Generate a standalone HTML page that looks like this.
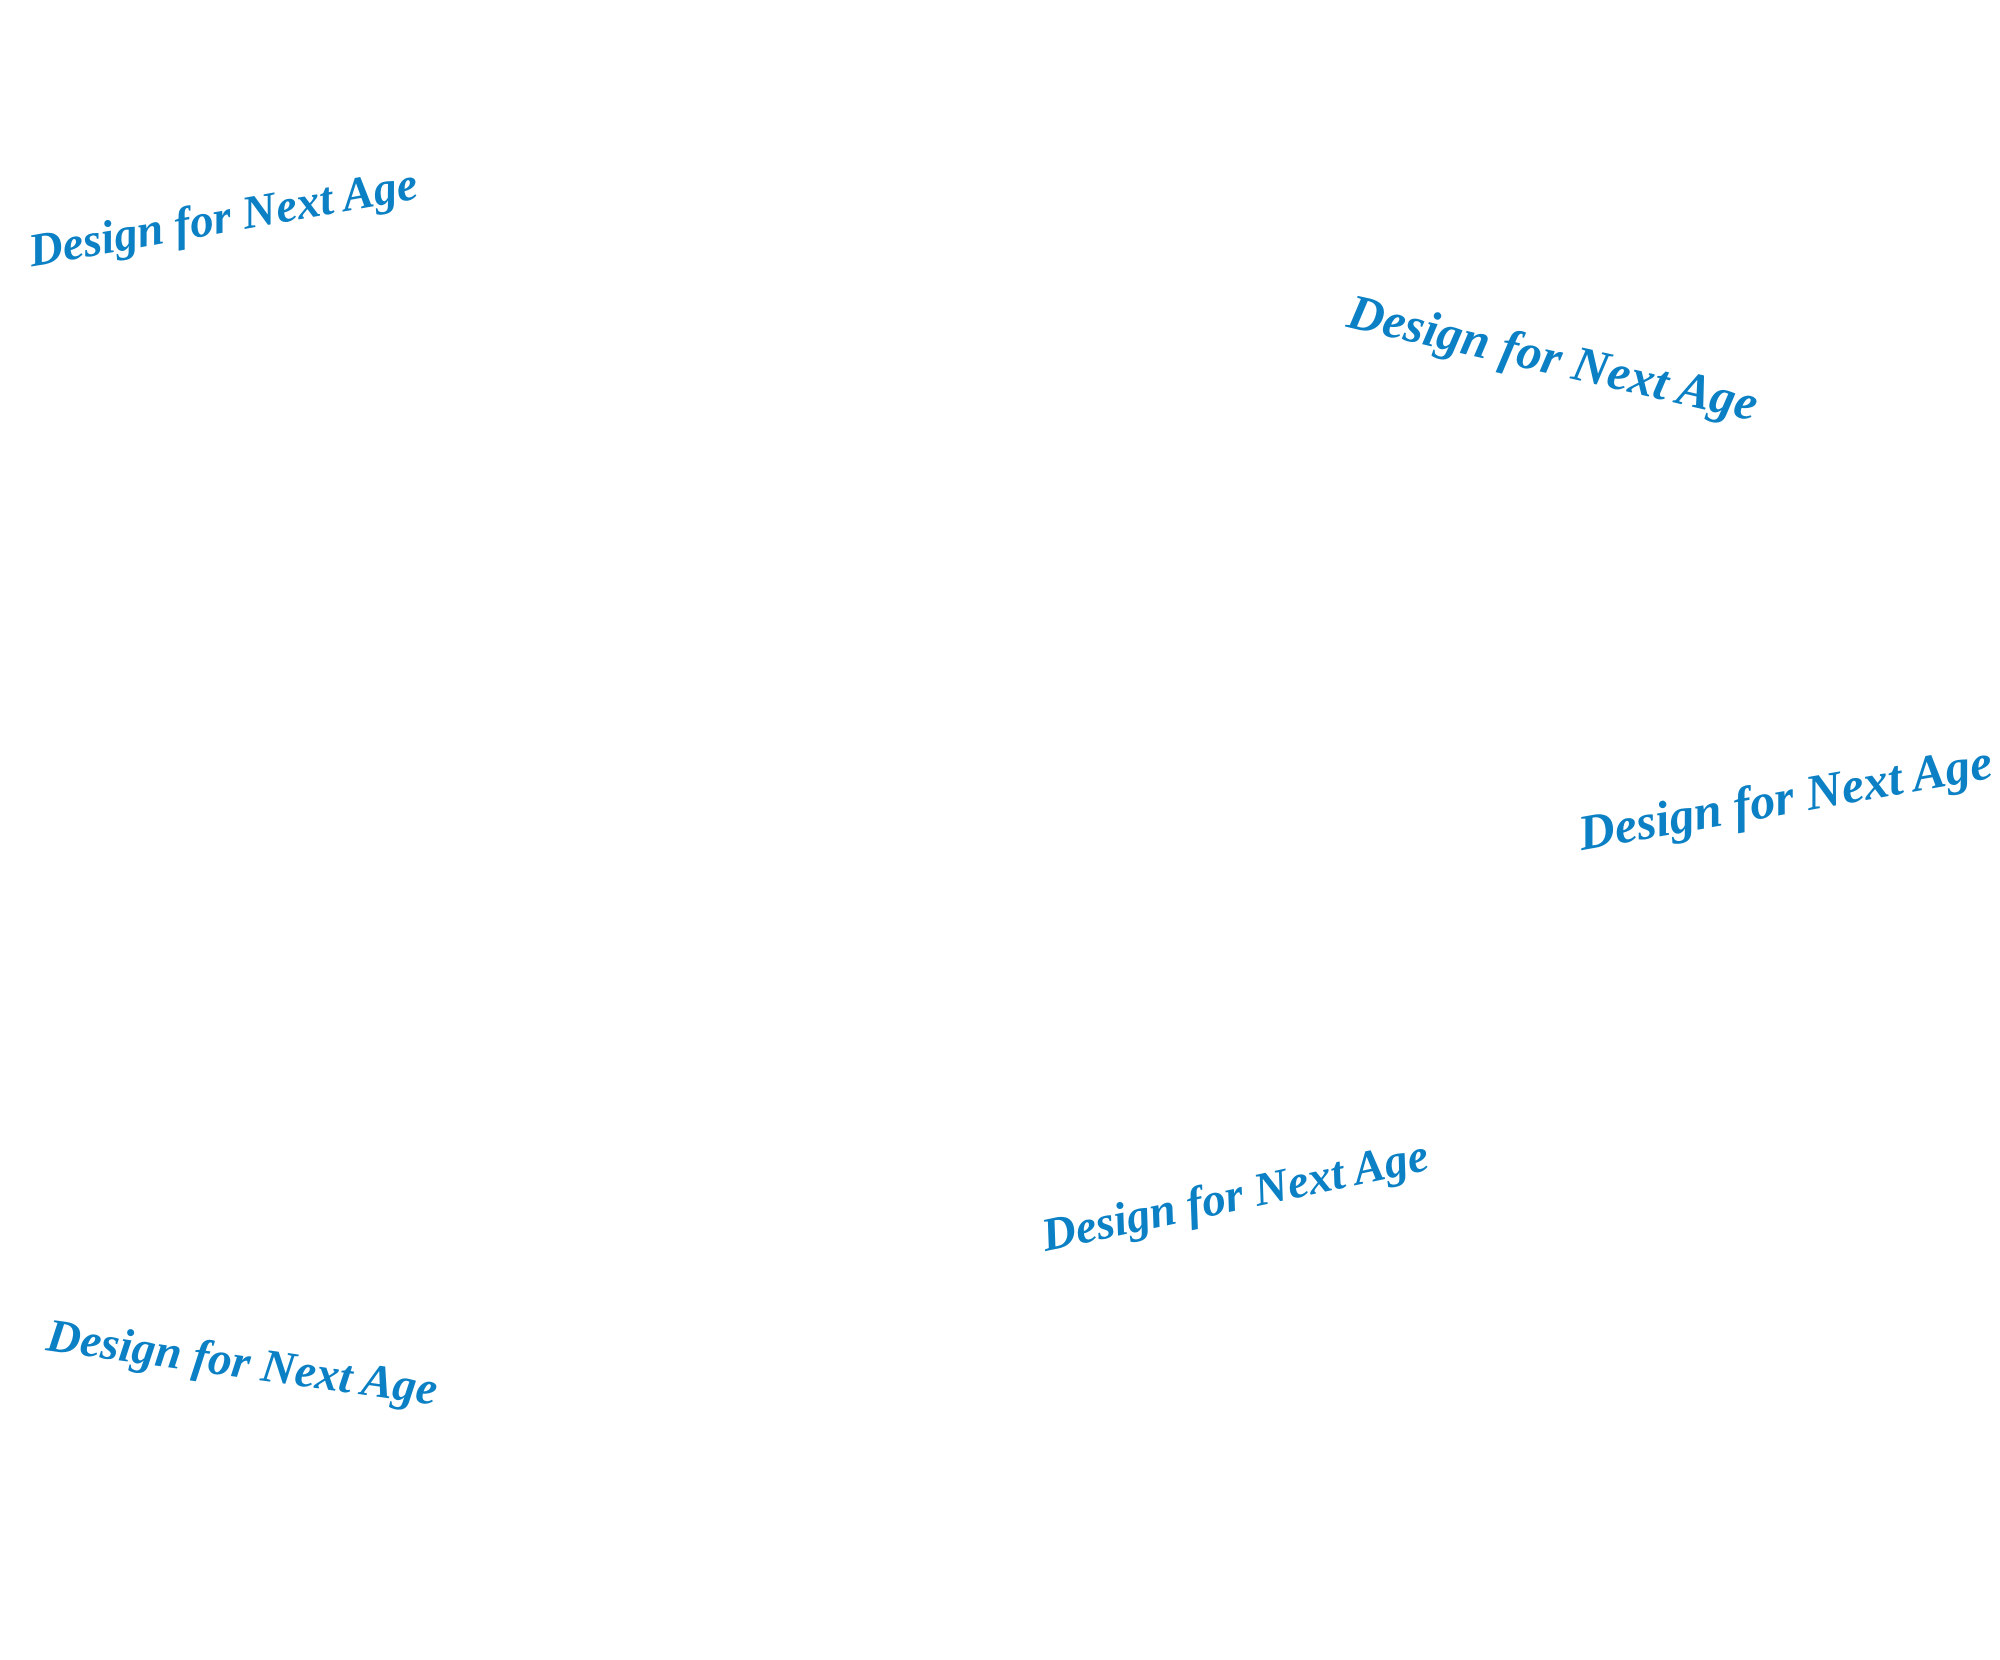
<!DOCTYPE html>
<html><head><meta charset="utf-8"><style>
html,body{margin:0;padding:0;background:#fff;}
body{width:2000px;height:1660px;position:relative;overflow:hidden;}
.t{position:absolute;font-family:"Liberation Serif",serif;font-style:italic;font-weight:bold;font-size:50px;color:#0b80c4;white-space:nowrap;transform:translate(-50%,-50%) rotate(var(--r));line-height:1;}
</style></head><body>
<div class="t" style="left:223px;top:218px;--r:-10deg;font-size:47px">Design for Next Age</div>
<div class="t" style="left:1553px;top:357px;--r:13deg">Design for Next Age</div>
<div class="t" style="left:1785px;top:797px;--r:-10deg">Design for Next Age</div>
<div class="t" style="left:1235px;top:1196px;--r:-12deg;font-size:47px">Design for Next Age</div>
<div class="t" style="left:242px;top:1363px;--r:8deg;font-size:47px">Design for Next Age</div>
</body></html>
